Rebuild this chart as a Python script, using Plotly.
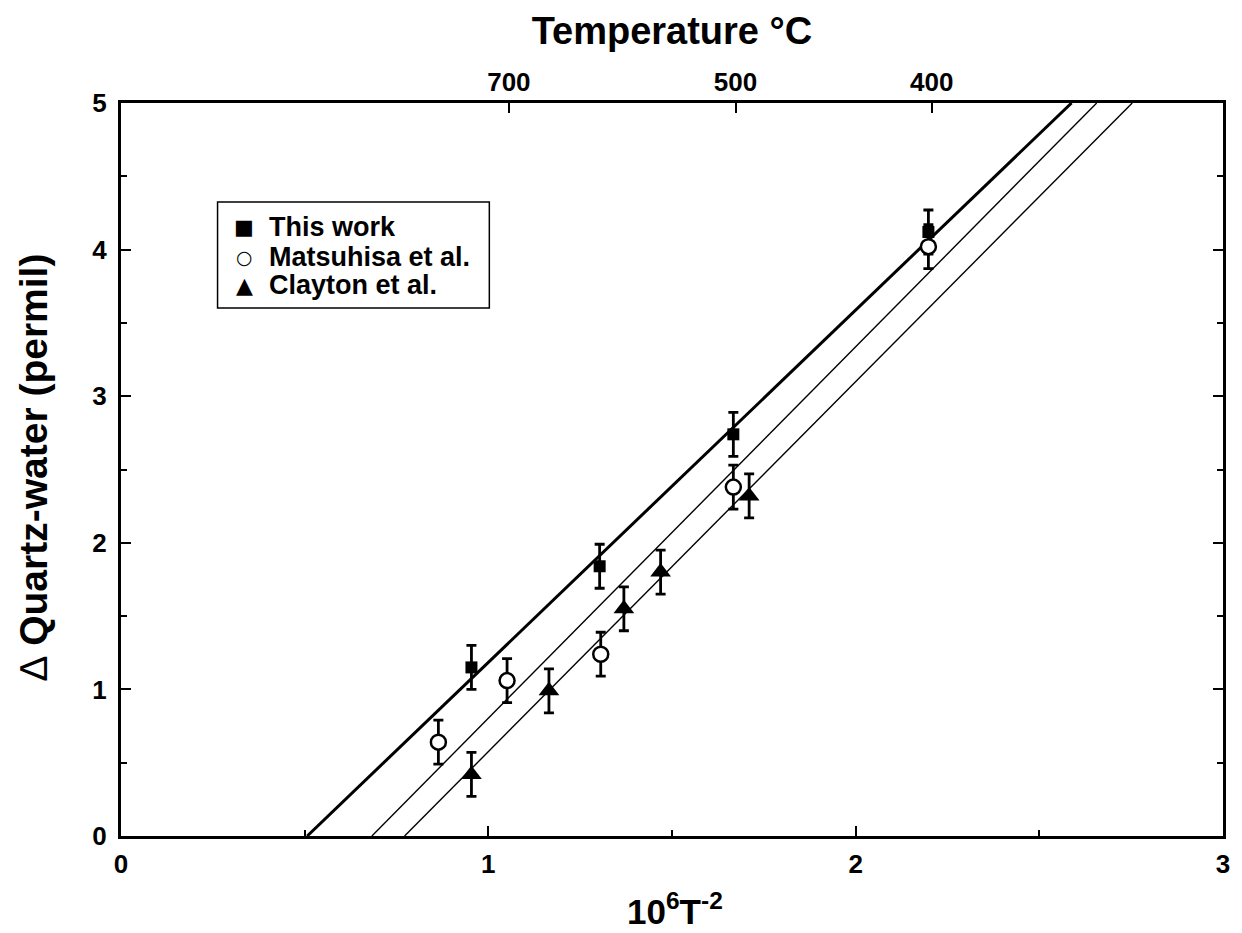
import plotly.graph_objects as go

# ---- data ----
this_x = [0.954, 1.303, 1.667, 2.198]
this_y = [1.15, 1.84, 2.74, 4.12]
this_err = [0.15, 0.15, 0.15, 0.15]

mats_x = [0.864, 1.051, 1.306, 1.667, 2.198]
mats_y = [0.64, 1.06, 1.24, 2.38, 4.02]
mats_err = [0.15, 0.15, 0.15, 0.15, 0.15]

clay_x = [0.954, 1.165, 1.369, 1.469, 1.710]
clay_y = [0.42, 0.99, 1.55, 1.80, 2.32]
clay_err = [0.15, 0.15, 0.15, 0.15, 0.15]

# fit lines: x-intercept at Δ=0 and slope
fit_x0 = [0.507, 0.683, 0.772]
fit_slope = [2.403, 2.534, 2.524]
fit_width = [3, 1.4, 1.4]

series_names = ["This work", "Matsuhisa et al.", "Clayton et al."]
legend_glyphs = ["■", "○", "▲"]

top_temps_c = [700, 500, 400]
bottom_ticks = [0, 1, 2, 3]
y_ticks = [0, 1, 2, 3, 4, 5]

FONT = "Liberation Sans"
fig = go.Figure()

for x0, s, w in zip(fit_x0, fit_slope, fit_width):
    ys = [0, 5]
    xs = [x0 + yy / s for yy in ys]
    fig.add_trace(go.Scatter(x=xs, y=ys, mode="lines", line=dict(color="black", width=w),
                             showlegend=False, hoverinfo="skip"))

eb = dict(type="data", thickness=2.8, width=5, color="black")
fig.add_trace(go.Scatter(x=this_x, y=this_y, mode="markers", name=series_names[0],
                         error_y=dict(array=this_err, **eb),
                         marker=dict(symbol="square", size=12, color="black")))
fig.add_trace(go.Scatter(x=mats_x, y=mats_y, mode="markers", name=series_names[1],
                         error_y=dict(array=mats_err, **eb),
                         marker=dict(symbol="circle", size=15, color="white",
                                     line=dict(width=2.5, color="black"))))
fig.add_trace(go.Scatter(x=clay_x, y=clay_y, mode="markers", name=series_names[2],
                         error_y=dict(array=clay_err, **eb),
                         marker=dict(symbol="triangle-up", size=18, color="black")))

# dummy trace for top temperature axis
top_vals = [1e6 / (t + 273.15) ** 2 for t in top_temps_c]
fig.add_trace(go.Scatter(x=[0], y=[0], xaxis="x2", mode="markers", opacity=0,
                         showlegend=False, hoverinfo="skip"))

tickfont = dict(family=FONT, size=26, color="black", weight="bold")
fig.update_layout(
    width=1242, height=933,
    margin=dict(l=121, r=14, t=103, b=97),
    plot_bgcolor="white", paper_bgcolor="white",
    font=dict(family=FONT, color="black"),
    showlegend=False,
    xaxis=dict(range=[0, 3], tickvals=bottom_ticks, ticktext=[str(v) for v in bottom_ticks],
               ticks="inside", ticklen=10, tickwidth=2, tickcolor="black",
               minor=dict(dtick=0.5, ticks="inside", ticklen=6, tickwidth=1.5, tickcolor="black"),
               showline=True, linewidth=3, linecolor="black", mirror=True,
               showgrid=False, zeroline=False, tickfont=tickfont, ticklabelstandoff=3),
    xaxis2=dict(range=[0, 3], overlaying="x", side="top", tickvals=top_vals,
                ticktext=[str(t) for t in top_temps_c],
                ticks="inside", ticklen=10, tickwidth=2, tickcolor="black",
                showline=False, showgrid=False, zeroline=False, tickfont=tickfont,
                ticklabelstandoff=6),
    yaxis=dict(range=[0, 5], tickvals=y_ticks, ticks="inside", ticklen=10, tickwidth=2,
               tickcolor="black",
               minor=dict(dtick=0.5, ticks="inside", ticklen=6, tickwidth=1.5, tickcolor="black"),
               showline=True, linewidth=3, linecolor="black", mirror="ticks",
               showgrid=False, zeroline=False, tickfont=tickfont, ticklabelstandoff=6),
    title=dict(text="Temperature °C", x=0.541, xanchor="center", y=0.967, yanchor="middle",
               font=dict(family=FONT, size=38, color="black", weight="bold")),
)

# axis titles
fig.add_annotation(text="10<sup>6</sup>T<sup>-2</sup>", xref="paper", yref="paper",
                   x=0.503, y=-0.1, xanchor="center", yanchor="middle", showarrow=False,
                   font=dict(family=FONT, size=35, color="black", weight="bold"))
fig.add_annotation(text="<span style='font-weight:normal'>∆</span> Quartz-water (permil)",
                   xref="paper", yref="paper",
                   x=-0.079, y=0.504, xanchor="center", yanchor="middle", showarrow=False,
                   textangle=-90,
                   font=dict(family=FONT, size=39, color="black", weight="bold"))

# legend box (drawn manually to match compact spacing)
def px_x(p):
    return (p - 121) / 1107.0

def px_y(p):
    return (836 - p) / 733.0

fig.add_shape(type="rect", xref="paper", yref="paper",
              x0=px_x(218), x1=px_x(491), y0=px_y(308), y1=px_y(202),
              line=dict(color="black", width=1.5), fillcolor="white", layer="above")
row_y = [227, 257, 285]
glyph_sizes = [21, 19, 22]
for name, glyph, gs, ry in zip(series_names, legend_glyphs, glyph_sizes, row_y):
    fig.add_annotation(text=glyph, xref="paper", yref="paper", x=px_x(245), y=px_y(ry),
                       xanchor="center", yanchor="middle", showarrow=False,
                       font=dict(family="DejaVu Sans", size=gs, color="black", weight="bold"))
    fig.add_annotation(text=name, xref="paper", yref="paper", x=px_x(268), y=px_y(ry),
                       xanchor="left", yanchor="middle", showarrow=False,
                       font=dict(family=FONT, size=27, color="black", weight="bold"))

fig.write_html("out.html")
